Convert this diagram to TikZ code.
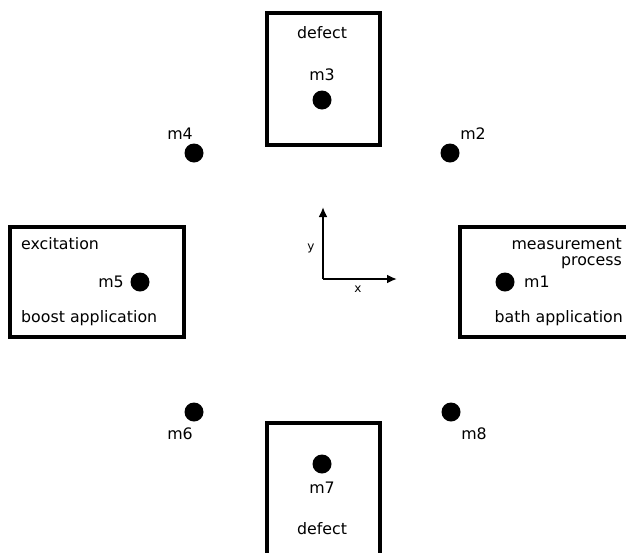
\documentclass[tikz,border=0pt]{standalone}
\usepackage{fontspec}
\setmainfont{DejaVu Sans}
\usetikzlibrary{arrows.meta}
\tikzset{
  region/.style={draw=black, line width=3.1pt, fill=none, inner sep=0pt},
  mass/.style={circle, fill=black, minimum size=19pt, inner sep=0pt},
  lbl/.style={font=\fontsize{15.8}{18}\selectfont, inner sep=0pt},
  axlbl/.style={font=\fontsize{12}{14}\selectfont, inner sep=0pt},
  axis/.style={line width=2.4pt, -{Latex[length=10pt,width=9pt]}}
}
\begin{document}
\begin{tikzpicture}[x=1pt, y=-1pt]
\useasboundingbox (0,0) rectangle (626,552);
\clip (0,0) rectangle (626,552);

% regions
\node[region, minimum width=113pt, minimum height=132pt] (top) at (323.5,79) {};
\node[region, minimum width=174pt, minimum height=110pt] (left) at (97,282) {};
\node[region, minimum width=184pt, minimum height=110pt] (right) at (552,282) {};
\node[region, minimum width=113pt, minimum height=140pt] (bottom) at (323.5,493) {};

% top region
\node[lbl] (tdef) at (322,33) {defect};
\node[lbl] (m3l) at (322,75) {m3};
\node[mass] (m3) at (322,100) {};

% left region
\node[lbl, anchor=west] (exc) at (21,244) {excitation};
\node[lbl, anchor=east] (m5l) at (124,282) {m5};
\node[mass] (m5) at (140,282) {};
\node[lbl, anchor=west] (boost) at (21,318) {boost application};

% right region
\node[lbl, anchor=east] (meas) at (622,244) {measurement};
\node[lbl, anchor=east] (proc) at (622,263) {process};
\node[mass] (m1) at (505,282) {};
\node[lbl, anchor=west] (m1l) at (524,282) {m1};
\node[lbl, anchor=east] (bath) at (623,318) {bath application};

% bottom region
\node[mass] (m7) at (322,464) {};
\node[lbl] (m7l) at (322,488) {m7};
\node[lbl] (bdef) at (322,529) {defect};

% corner masses
\node[mass] (m4) at (194,153) {};
\node[lbl] (m4l) at (180,134) {m4};
\node[mass] (m2) at (450,153) {};
\node[lbl] (m2l) at (473,134) {m2};
\node[mass] (m6) at (194,412) {};
\node[lbl] (m6l) at (180,434) {m6};
\node[mass] (m8) at (451,412) {};
\node[lbl] (m8l) at (474,434) {m8};

% coordinate axes
\coordinate (o) at (323,279);
\coordinate (ytip) at (323,207);
\coordinate (xtip) at (397,279);
\draw[axis] (o) -- (ytip);
\draw[axis] (o) -- (xtip);
\node[axlbl] (ylab) at (311,248) {y};
\node[axlbl] (xlab) at (358,289) {x};
\end{tikzpicture}
\end{document}
